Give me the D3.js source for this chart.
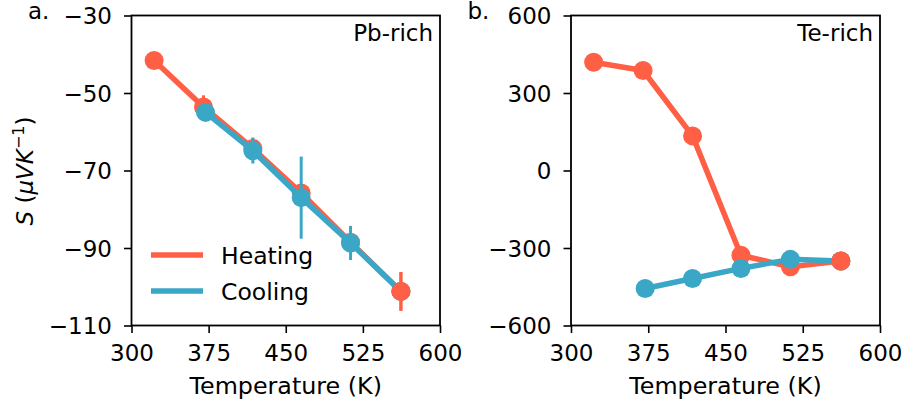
<!DOCTYPE html>
<html>
<head>
<meta charset="utf-8">
<script src="https://cdn.jsdelivr.net/npm/d3@7"></script>
<style>
  body { margin: 0; background: #fff; }
  svg { font-family: "DejaVu Sans", sans-serif; }
</style>
</head>
<body>
<div id="chart"></div>
<script>
// data
const heatT = [322, 370, 418, 465, 513, 562];
const coolT = [372, 418, 465, 513, 562];

const pbHeat = [-41.6, -53.6, -64.3, -75.8, -88.5, -101.2];
const pbHeatErr = [0.5, 3.0, 2.8, 2, 2, 5.0];
const pbCool = [-55.0, -64.9, -77.0, -88.7, -101.2];
const pbCoolErr = [1.5, 3.3, 10.6, 4.4, 0];

const teHeat = [419, 387, 134, -328, -373, -350];
const teHeatErr = [0, 0, 0, 0, 0, 0];
const teCool = [-457, -418, -379, -344, -350];
const teCoolErr = [0, 0, 0, 0, 0];

const xTicks = [300, 375, 450, 525, 600];
const pbTicks = [-30, -50, -70, -90, -110];
const teTicks = [600, 300, 0, -300, -600];

const red = "#ff5f45", blue = "#3ba7c6";
const width = 904, height = 404;
const plotTop = 15.5, plotBottom = 325.5;
const fs = 23;

const svg = d3.select("#chart").append("svg")
    .attr("width", width).attr("height", height);

function panel(x0, x1, yDom, yTicks, hv, he, cv, ce, label, name) {
    const x = d3.scaleLinear().domain([300, 600]).range([x0, x1]);
    const y = d3.scaleLinear().domain(yDom).range([plotBottom, plotTop]);
    const g = svg.append("g");

    const line = d3.line().x(d => x(d[0])).y(d => y(d[1]));
    const hd = heatT.map((t, i) => [t, hv[i], he[i]]);
    const cd = coolT.map((t, i) => [t, cv[i], ce[i]]);

    function series(data, color) {
        g.append("path").datum(data)
            .attr("d", line).attr("fill", "none")
            .attr("stroke", color).attr("stroke-width", 5.5)
            .attr("stroke-linejoin", "round");
        g.selectAll(null).data(data.filter(d => d[2] > 0)).enter().append("line")
            .attr("x1", d => x(d[0])).attr("x2", d => x(d[0]))
            .attr("y1", d => y(d[1] - d[2])).attr("y2", d => y(d[1] + d[2]))
            .attr("stroke", color).attr("stroke-width", 3);
        g.selectAll(null).data(data).enter().append("circle")
            .attr("cx", d => x(d[0])).attr("cy", d => y(d[1]))
            .attr("r", 9.5).attr("fill", color);
    }
    series(hd, red);
    series(cd, blue);
    // turning point (end of heating) sits on top
    const last = hd[hd.length - 1];
    g.append("line")
        .attr("x1", x(last[0])).attr("x2", x(last[0]))
        .attr("y1", y(last[1] - last[2])).attr("y2", y(last[1] + last[2]))
        .attr("stroke", red).attr("stroke-width", 3);
    g.append("circle").attr("cx", x(last[0])).attr("cy", y(last[1]))
        .attr("r", 9.5).attr("fill", red);

    // frame
    g.append("rect").attr("x", x0).attr("y", plotTop)
        .attr("width", x1 - x0).attr("height", plotBottom - plotTop)
        .attr("fill", "none").attr("stroke", "#000").attr("stroke-width", 1.8);

    const xa = g.append("g").attr("transform", `translate(0,${plotBottom})`)
        .call(d3.axisBottom(x).tickValues(xTicks).tickSize(7.5).tickPadding(11));
    const ya = g.append("g").attr("transform", `translate(${x0},0)`)
        .call(d3.axisLeft(y).tickValues(yTicks).tickSize(7.5).tickPadding(12)
            .tickFormat(d => d < 0 ? "\u2212" + Math.abs(d) : d));
    [xa, ya].forEach(a => {
        a.select(".domain").remove();
        a.selectAll(".tick line").attr("stroke", "#000").attr("stroke-width", 1.6);
        a.selectAll("text").attr("font-size", fs).attr("fill", "#000")
            .attr("font-family", "DejaVu Sans");
    });
    xa.selectAll("text").attr("dy", "0.72em");
    ya.selectAll("text").attr("dy", "0.36em");

    g.append("text").attr("x", (x0 + x1) / 2).attr("y", 394)
        .attr("text-anchor", "middle").attr("font-size", 23.8)
        .text("Temperature (K)");
    g.append("text").attr("x", x1 - 7).attr("y", 41)
        .attr("text-anchor", "end").attr("font-size", fs).text(name);
    g.append("text").attr("x", x0 - 103.5).attr("y", 18.5)
        .attr("font-size", fs).text(label);
}

panel(131.5, 440, [-110, -30], pbTicks, pbHeat, pbHeatErr, pbCool, pbCoolErr, "a.", "Pb-rich");
panel(571, 880, [-600, 600], teTicks, teHeat, teHeatErr, teCool, teCoolErr, "b.", "Te-rich");

// legend
const legend = svg.append("g");
[["Heating", red, 255], ["Cooling", blue, 291]].forEach(([t, c, yy]) => {
    legend.append("line").attr("x1", 151).attr("x2", 203)
        .attr("y1", yy).attr("y2", yy).attr("stroke", c).attr("stroke-width", 5.5);
    legend.append("text").attr("x", 221).attr("y", yy + 9)
        .attr("font-size", 23.5).text(t);
});

// y label
const yl = svg.append("text")
    .attr("transform", "translate(33,171) rotate(-90)")
    .attr("text-anchor", "middle").attr("font-size", fs);
yl.append("tspan").attr("font-style", "italic").text("S");
yl.append("tspan").text(" (");
yl.append("tspan").attr("font-style", "italic").text("\u03bcVK");
yl.append("tspan").attr("font-size", 16).attr("dy", -9).text("\u22121");
yl.append("tspan").attr("dy", 9).text(")");
</script>
</body>
</html>
